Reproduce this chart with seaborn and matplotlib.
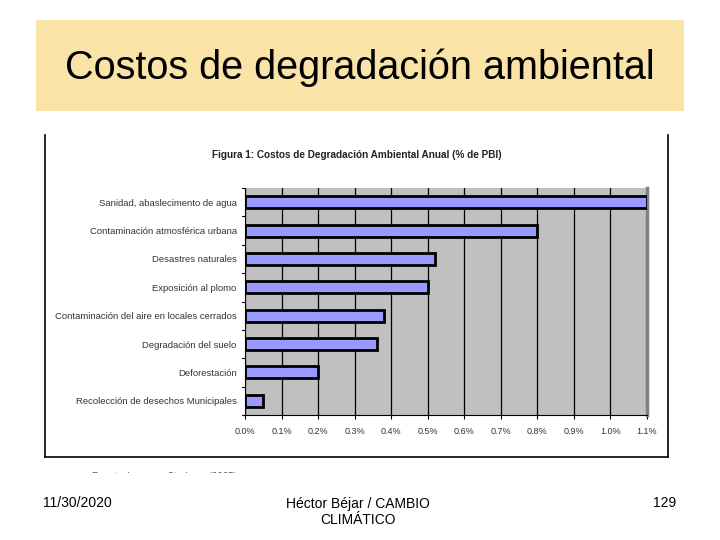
import matplotlib
matplotlib.use('Agg')
import matplotlib.pyplot as plt
import seaborn as sns
import pandas as pd
from matplotlib.patches import Rectangle
from matplotlib.ticker import MultipleLocator, FuncFormatter

# datos (% del PBI)
categorias = ['Sanidad, abaslecimento de agua',
              'Contaminación atmosférica urbana',
              'Desastres naturales',
              'Exposición al plomo',
              'Contaminación del aire en locales cerrados',
              'Degradación del suelo',
              'Deforestación',
              'Recolección de desechos Municipales']
valores = [1.10, 0.80, 0.52, 0.50, 0.38, 0.36, 0.20, 0.05]

df = pd.DataFrame({'categoria': categorias, 'valor': valores})

sns.set_style('white')
plt.rcParams['font.family'] = ['Liberation Sans', 'DejaVu Sans']

W, H = 720, 540
fig = plt.figure(figsize=(7.2, 5.4), dpi=100)

def box(x0, y0, x1, y1):
    # pixeles -> coordenadas de figura
    return [x0 / W, 1 - y1 / H, (x1 - x0) / W, (y1 - y0) / H]

# caja del titulo
fig.patches.append(Rectangle((36 / W, 1 - 111 / H), 648 / W, 91 / H,
                             transform=fig.transFigure, facecolor='#F9E3A7',
                             edgecolor='none', zorder=0))
fig.text(360 / W, 1 - 68 / H, 'Costos de degradación ambiental',
         ha='center', va='center', fontsize=28.5, color='black')

# marco de la imagen del grafico
frame = fig.add_axes(box(45, 135, 668, 457))
frame.set_xlim(0, 1)
frame.set_ylim(0, 1)
frame.set_xticks([])
frame.set_yticks([])
frame.spines['top'].set_visible(False)
for s in ['left', 'right', 'bottom']:
    frame.spines[s].set_color('black')
    frame.spines[s].set_linewidth(1.2)
frame.text(0.5, 0.937, 'Figura 1: Costos de Degradación Ambiental Anual (% de PBI)',
           ha='center', va='center', fontsize=7.2, fontweight='bold',
           color='#222222', transform=frame.transAxes)

# fuente (recortada por el borde de la imagen)
src = fig.add_axes(box(45, 457, 668, 473))
src.axis('off')
src.text(0.075, -0.25, 'Fuente: Larsen y Strukova (2005)', fontsize=7,
         color='#555555', ha='left', va='center', transform=src.transAxes,
         clip_on=True)

# grafico de barras
ax = fig.add_axes(box(245, 188, 647, 415))
sns.barplot(data=df, x='valor', y='categoria', orient='h', ax=ax,
            color='#9999FF', edgecolor='black', linewidth=2, width=0.42,
            saturation=1, zorder=3)
ax.set_facecolor('#C0C0C0')
ax.set_xlim(0, 1.1)
ax.set_ylim(len(categorias) - 0.5, -0.5)
ax.xaxis.set_major_locator(MultipleLocator(0.1))
ax.xaxis.set_major_formatter(FuncFormatter(lambda v, p: f'{v:.1f}%'))
ax.grid(axis='x', color='black', linewidth=0.9, zorder=1)
ax.set_axisbelow(True)
ax.set_xlabel('')
ax.set_ylabel('')
ax.tick_params(axis='x', labelsize=6.5, length=3, color='black', pad=6,
               labelcolor='#333333', direction='out', bottom=True)
ax.tick_params(axis='y', labelsize=6.8, length=0, pad=6, labelcolor='#333333')
ax.spines['top'].set_visible(False)
ax.spines['right'].set_color('#808080')
ax.spines['right'].set_linewidth(2.5)
ax.spines['left'].set_color('black')
ax.spines['left'].set_linewidth(0.8)
ax.spines['bottom'].set_color('black')
ax.spines['bottom'].set_linewidth(0.8)
# marcas del eje y entre categorias
for k in range(len(categorias) + 1):
    ax.plot([-0.008, 0], [k - 0.5, k - 0.5], color='black', linewidth=0.8,
            clip_on=False, zorder=4)

# pie de pagina
fig.text(77 / W, 1 - 503 / H, '11/30/2020', ha='center', va='center',
         fontsize=10, color='black')
fig.text(358 / W, 1 - 512 / H, 'Héctor Béjar / CAMBIO\nCLIMÁTICO', ha='center',
         va='center', fontsize=10, color='black', linespacing=1.25)
fig.text(665 / W, 1 - 503 / H, '129', ha='center', va='center',
         fontsize=10, color='black')

fig.savefig('out.png', dpi=100)
